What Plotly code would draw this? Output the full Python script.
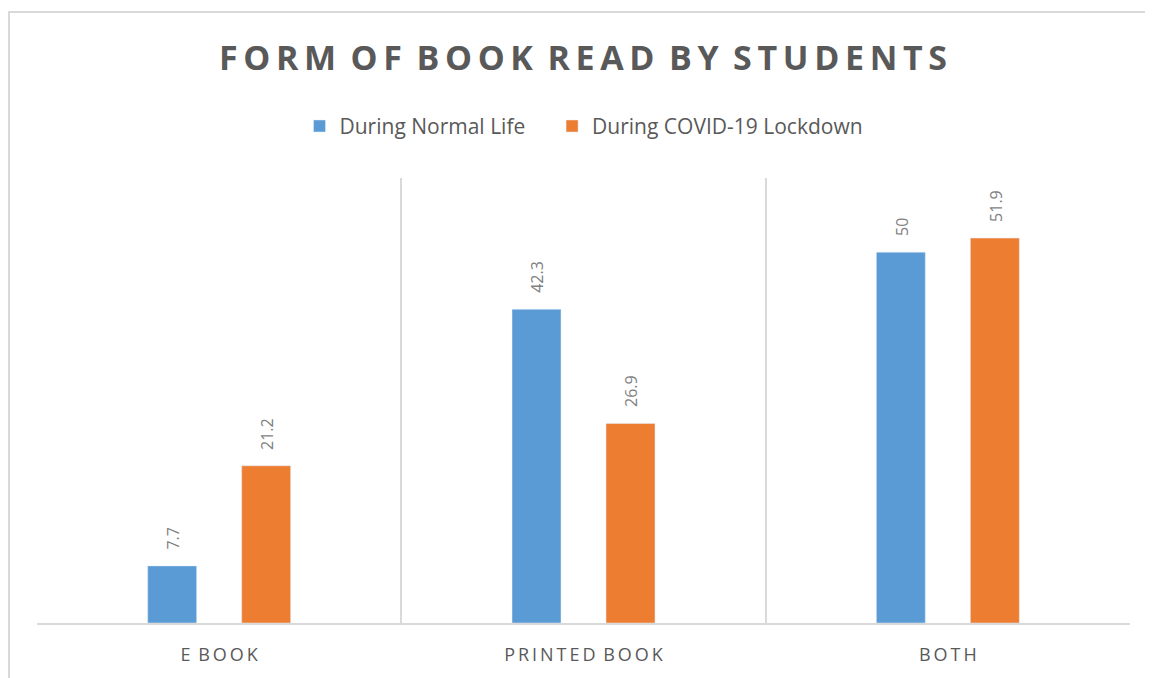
import plotly.graph_objects as go

# Datos
categorias = ["E BOOK", "PRINTED BOOK", "BOTH"]
normal = [7.7, 42.3, 50]
lockdown = [21.2, 26.9, 51.9]
series_nombres = ["During Normal Life", "During COVID-19 Lockdown"]

AZUL = "#5B9BD5"
NARANJA = "#ED7D31"
GRIS_TXT = "#595959"
GRIS_ETIQ = "#7F7F7F"
GRIS_LINEA = "#D9D9D9"
FUENTE = "Open Sans"


def espaciar(texto, sep="\u2009"):
    """Separa letras para imitar el espaciado de Excel (sin tocar los espacios)."""
    out = ""
    for i, ch in enumerate(texto):
        out += ch
        if i < len(texto) - 1 and ch != " ":
            out += sep
    return out


etiquetas = [espaciar(c) for c in categorias]

fig = go.Figure()
# espacios duros al final del primer nombre para separar las entradas de la leyenda
fig.add_trace(go.Bar(x=etiquetas, y=normal, name=series_nombres[0] + "\u00a0" * 4,
                     marker=dict(color=AZUL)))
fig.add_trace(go.Bar(x=etiquetas, y=lockdown, name=series_nombres[1],
                     marker=dict(color=NARANJA)))

# Etiquetas de datos rotadas sobre cada barra
desplaz = 47
for serie, shift in ((normal, -desplaz), (lockdown, desplaz)):
    for cat, val in zip(etiquetas, serie):
        fig.add_annotation(
            x=cat, y=val, xref="x", yref="y",
            text=f"{val:g}", textangle=-90, showarrow=False,
            xanchor="center", yanchor="bottom", xshift=shift + 1, yshift=14,
            font=dict(family=FUENTE, size=16, color=GRIS_ETIQ),
        )

# La página tiene 8 px de margen, la figura se reduce en consecuencia
OFF = 8
W, H = 1153 - OFF, 678 - OFF
L, R, T, B = 37 - OFF, 23, 178 - OFF, 52
pw, ph = W - L - R, H - T - B
def px_x(px): return (px - OFF - L) / pw
def px_y(py): return (H - B - (py - OFF)) / ph

# Borde exterior del área del gráfico (arriba e izquierda)
fig.add_shape(type="line", xref="paper", yref="paper",
              x0=px_x(8), x1=px_x(1170), y0=px_y(11), y1=px_y(11),
              line=dict(color=GRIS_LINEA, width=2))
fig.add_shape(type="line", xref="paper", yref="paper",
              x0=px_x(9), x1=px_x(9), y0=px_y(11), y1=px_y(700),
              line=dict(color=GRIS_LINEA, width=2))

fig.update_layout(
    width=W, height=H,
    title=dict(text="<b>" + espaciar("FORM OF BOOK READ BY STUDENTS") + "</b>",
               x=px_x(583), xref="paper", xanchor="center",
               y=1 - (58 - OFF) / H, yanchor="middle",
               font=dict(family=FUENTE, size=34, color=GRIS_TXT)),
    legend=dict(orientation="h", x=px_x(584), xanchor="center", y=px_y(126),
                yanchor="middle",
                font=dict(family=FUENTE, size=21, color=GRIS_TXT)),
    barmode="group", bargap=0.484, bargroupgap=0.479,
    plot_bgcolor="white", paper_bgcolor="white",
    margin=dict(l=L, r=R, t=T, b=B),
    font=dict(family=FUENTE, color=GRIS_TXT),
)
fig.update_xaxes(
    tickson="boundaries", showgrid=True, gridcolor=GRIS_LINEA, gridwidth=1.5,
    showline=True, linecolor=GRIS_LINEA, linewidth=2, ticks="",
    ticklabelstandoff=14,
    tickfont=dict(family=FUENTE, size=18, color=GRIS_TXT),
)
fig.update_yaxes(range=[0, 60], visible=False, showgrid=False)

fig.write_html("out.html")
